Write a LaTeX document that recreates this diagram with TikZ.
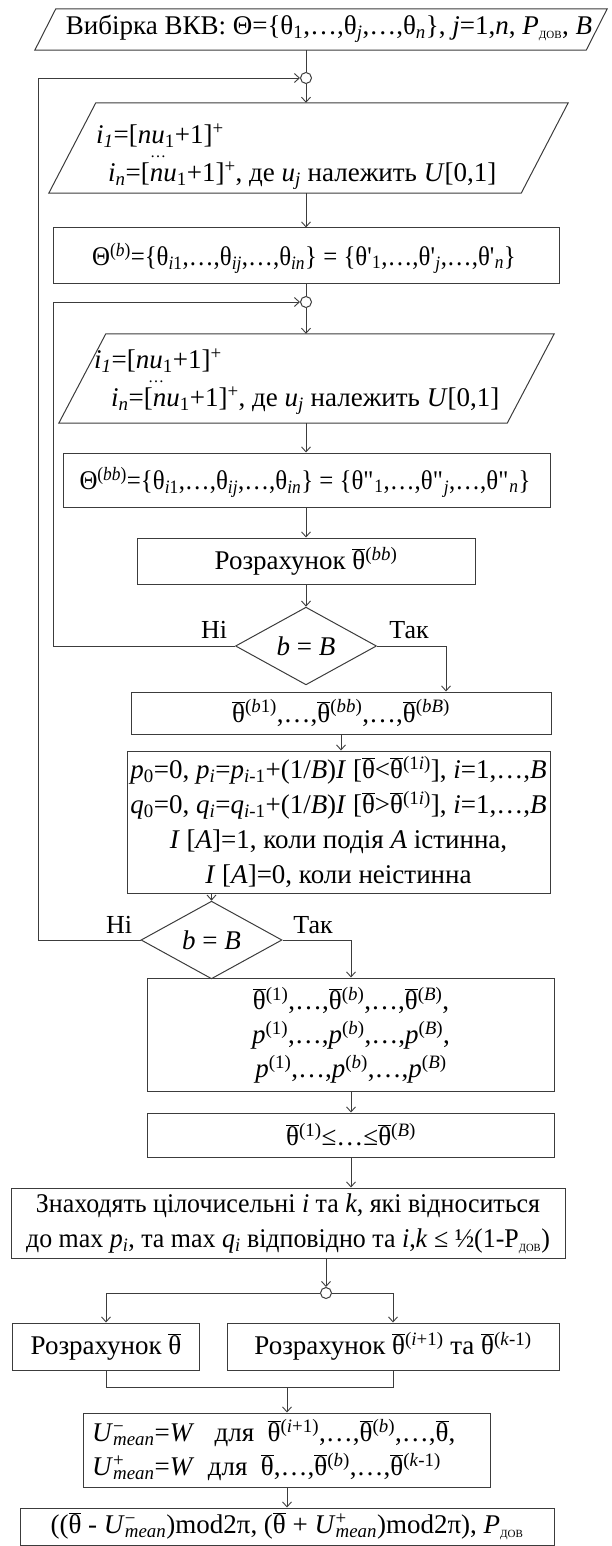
\documentclass[tikz,border=0pt]{standalone}
\usepackage{fontspec}
\setmainfont{Liberation Serif}
\usetikzlibrary{arrows.meta,shapes.geometric,calc}
\newcommand{\ssup}[1]{\textsuperscript{#1}}
\newcommand{\ssub}[1]{\textsubscript{#1}}
\newcommand{\tb}{\ensuremath{\overline{\mbox{θ}}}}
\newcommand{\supsub}[2]{\makebox[0pt][l]{\textsuperscript{#1}}\textsubscript{#2}}
\newcommand{\dov}{\textsubscript{\fontsize{11}{11}\selectfont ДОВ}}
\newcommand{\pr}{\textquotesingle}
\newcommand{\ppr}{\textquotedbl}
\definecolor{lc}{HTML}{3C3C3C}
\tikzset{
  every node/.style={font=\fontsize{27}{35}\selectfont, text=black},
  narrow/.style={font=\fontsize{27}{35}\selectfont\addfontfeature{FakeStretch=0.92}},
  slim/.style={font=\fontsize{27}{35}\selectfont\addfontfeature{FakeStretch=0.96}},
  box/.style={draw=lc, line width=1pt, inner sep=0pt},
  shp/.style={draw=none, inner sep=0pt},
  outline/.style={draw=lc, line width=1pt},
  txt/.style={inner sep=0pt, align=center},
  dec/.style={diamond, draw=lc, line width=1pt, inner sep=0pt, minimum width=141pt, minimum height=59pt},
  junc/.style={circle, draw=lc, line width=1pt, inner sep=0pt, minimum size=11pt},
  conn/.style={draw=lc, line width=0.9pt},
  arr/.style={conn, -{Straight Barb[length=5pt,width=9pt]}},
  lbl/.style={inner sep=0pt, font=\fontsize{26}{30}\selectfont},
}
\begin{document}
\begin{tikzpicture}[x=1pt,y=-1pt]
\useasboundingbox (0,0) rectangle (612,1546);
% top parallelogram
\node[shp, minimum width=572pt, minimum height=41pt] (pz0) at (321,29.5) {};
\draw[outline] (pz0.south west) -- ([xshift=21pt]pz0.north west) -- (pz0.north east) -- ([xshift=-21pt]pz0.south east) -- cycle;
\node[txt] (t0) at (329,29) {Вибірка ВКВ: Θ=\{θ\ssub{1},…,θ\ssub{\textit{j}},…,θ\ssub{\textit{n}}\}, \textit{j}=1,\textit{n}, \textit{P}\dov, \textit{B}};
\node[junc] (c1) at (306,78) {};
% parallelogram 1
\node[shp, minimum width=519pt, minimum height=90pt] (pz1) at (308.5,148) {};
\draw[outline] (pz1.south west) -- ([xshift=47pt]pz1.north west) -- (pz1.north east) -- ([xshift=-47pt]pz1.south east) -- cycle;
\node[txt, anchor=west] (t1a) at (96,136) {\textit{i}\ssub{\textit{1}}=[\textit{nu}\ssub{1}+1]\ssup{+}};
\node[txt, font=\fontsize{16}{16}\selectfont] (t1b) at (158,157) {…};
\node[txt, anchor=west] (t1c) at (108,176) {\textit{i\ssub{n}}=[\textit{nu}\ssub{1}+1]\ssup{+}, де \textit{u\ssub{j}} належить \textit{U}[0,1]};
% rect 1
\node[box, minimum width=506pt, minimum height=55pt] (r1) at (306,255.5) {};
\node[txt, narrow] (t2) at (304,258) {Θ\ssup{(\textit{b})}=\{θ\ssub{\textit{i}1},…,θ\ssub{\textit{ij}},…,θ\ssub{\textit{in}}\} = \{θ\pr\ssub{1},…,θ\pr\ssub{\textit{j}},…,θ\pr\ssub{\textit{n}}\}};
\node[junc] (c2) at (306,302) {};
% parallelogram 2
\node[shp, minimum width=495pt, minimum height=89pt] (pz2) at (306.5,378.5) {};
\draw[outline] (pz2.south west) -- ([xshift=47pt]pz2.north west) -- (pz2.north east) -- ([xshift=-47pt]pz2.south east) -- cycle;
\node[txt, anchor=west] (t3a) at (94,361) {\textit{i}\ssub{\textit{1}}=[\textit{nu}\ssub{1}+1]\ssup{+}};
\node[txt, font=\fontsize{16}{16}\selectfont] (t3b) at (156,382) {…};
\node[txt, anchor=west] (t3c) at (111,401) {\textit{i\ssub{n}}=[\textit{nu}\ssub{1}+1]\ssup{+}, де \textit{u\ssub{j}} належить \textit{U}[0,1]};
% rect 2
\node[box, minimum width=487pt, minimum height=54pt] (r2) at (306.5,480) {};
\node[txt, narrow] (t4) at (305,482) {Θ\ssup{(\textit{bb})}=\{θ\ssub{\textit{i}1},…,θ\ssub{\textit{ij}},…,θ\ssub{\textit{in}}\} = \{θ\ppr\ssub{1},…,θ\ppr\ssub{\textit{j}},…,θ\ppr\ssub{\textit{n}}\}};
% rect 3
\node[box, minimum width=338pt, minimum height=46pt] (r3) at (306,561) {Розрахунок \tb\ssup{(\textit{bb})}};
% decision 1
\node[dec] (d1) at (306,646) {\textit{b} = \textit{B}};
\node[lbl] (n1) at (214,630) {Ні};
\node[lbl] (y1) at (409,630) {Так};
% rect 4
\node[box, minimum width=420pt, minimum height=42pt] (r4) at (341,713) {\tb\ssup{(\textit{b}1)},…,\tb\ssup{(\textit{bb})},…,\tb\ssup{(\textit{bB})}};
% rect 5
\node[box, minimum width=423pt, minimum height=142pt] (r5) at (338.5,822) {};
\node[txt] (t5) at (338.5,822) {\textit{p}\ssub{0}=0, \textit{p\ssub{i}}=\textit{p}\ssub{\textit{i}-1}+(1/\textit{B})\textit{I} [\tb<\tb\ssup{(1\textit{i})}], \textit{i}=1,…,\textit{B}\\
\textit{q}\ssub{0}=0, \textit{q\ssub{i}}=\textit{q}\ssub{\textit{i}-1}+(1/\textit{B})\textit{I} [\tb>\tb\ssup{(1\textit{i})}], \textit{i}=1,…,\textit{B}\\
\textit{I} [\textit{A}]=1, коли подія \textit{A} істинна,\\
\textit{I} [\textit{A}]=0, коли неістинна};
% decision 2
\node[dec] (d2) at (211.5,940) {\textit{b} = \textit{B}};
\node[lbl] (n2) at (119,925) {Ні};
\node[lbl] (y2) at (313,925) {Так};
% rect 6
\node[box, minimum width=407pt, minimum height=113pt] (r6) at (351,1034.5) {};
\node[txt, font=\fontsize{27}{34}\selectfont] (t6) at (351,1035) {\tb\ssup{(1)},…,\tb\ssup{(\textit{b})},…,\tb\ssup{(\textit{B})},\\
\textit{p}\ssup{(1)},…,\textit{p}\ssup{(\textit{b})},…,\textit{p}\ssup{(\textit{B})},\\
\textit{p}\ssup{(1)},…,\textit{p}\ssup{(\textit{b})},…,\textit{p}\ssup{(\textit{B})}};
% rect 7
\node[box, minimum width=407pt, minimum height=44pt] (r7) at (351,1135) {\tb\ssup{(1)}≤…≤\tb\ssup{(\textit{B})}};
% rect 8
\node[box, minimum width=554pt, minimum height=70pt] (r8) at (288,1223) {};
\node[txt, slim] (t8) at (288,1224) {Знаходять цілочисельні \textit{i} та \textit{k}, які відноситься\\
до max \textit{p\ssub{i}}, та max \textit{q\ssub{i}} відповідно та \textit{i},\textit{k} ≤ ½(1-Р\dov)};
\node[junc] (c3) at (326,1293) {};
\coordinate (b1) at (106,1293);
\coordinate (b2) at (393,1293);
% rect 9, 10
\node[box, minimum width=187pt, minimum height=47pt] (r9) at (106,1346.5) {Розрахунок \tb};
\node[box, minimum width=332pt, minimum height=47pt] (r10) at (393,1346.5) {Розрахунок \tb\ssup{(\textit{i}+1)} та \tb\ssup{(\textit{k}-1)}};
\coordinate (m1) at (287,1387);
% rect 11
\node[box, minimum width=407pt, minimum height=74pt] (r11) at (286.5,1450) {};
\node[txt, align=left, anchor=west, font=\fontsize{27}{34}\selectfont] (t11) at (92,1450) {\textit{U}\supsub{−}{\textit{mean}}=\textit{W}\ \ \ для \ \tb\ssup{(\textit{i}+1)},…,\tb\ssup{(\textit{b})},…,\tb,\\
\textit{U}\supsub{+}{\textit{mean}}=\textit{W}\ \ для \ \tb,…,\tb\ssup{(\textit{b})},…,\tb\ssup{(\textit{k}-1)}};
% rect 12
\node[box, minimum width=534pt, minimum height=37pt] (r12) at (287,1526.5) {((\tb{} - \textit{U}\supsub{−}{\textit{mean}})mod2π, (\tb{} + \textit{U}\supsub{+}{\textit{mean}})mod2π), \textit{P}\dov};
% connectors
\coordinate (l1) at (38,0);
\coordinate (l2) at (53,0);
\coordinate (k1) at (446,646);
\coordinate (k2) at (351,940);
\draw[conn] (c1 |- pz0.south) -- (c1.north);
\draw[arr] (c1.south) -- (c1 |- pz1.north);
\draw[arr] (c1 |- pz1.south) -- (c1 |- r1.north);
\draw[conn] (c2 |- r1.south) -- (c2.north);
\draw[arr] (c2.south) -- (c2 |- pz2.north);
\draw[arr] (c2 |- pz2.south) -- (c2 |- r2.north);
\draw[arr] (c2 |- r2.south) -- (r3.north);
\draw[arr] (r3.south) -- (d1.north);
\draw[arr] (d1.west) -- (d1.west -| l2) |- (c2.west);
\draw[arr] (d1.east) -- (k1) -- (k1 |- r4.north);
\draw[arr] (r4.south) -- (r4.south |- r5.north);
\draw[arr] (d2 |- r5.south) -- (d2.north);
\draw[arr] (d2.west) -- (d2.west -| l1) |- (c1.west);
\draw[arr] (d2.east) -- (k2) -- (r6.north);
\draw[arr] (r6.south) -- (r7.north);
\draw[arr] (r7.south) -- (r7.south |- r8.north);
\draw[arr] (c3 |- r8.south) -- (c3.north);
\draw[arr] (c3.west) -- (b1) -- (b1 |- r9.north);
\draw[arr] (c3.east) -- (b2) -- (b2 |- r10.north);
\draw[conn] (r9.south) |- (m1);
\draw[conn] (r10.south) |- (m1);
\draw[arr] (m1) -- (m1 |- r11.north);
\draw[arr] (m1 |- r11.south) -- (m1 |- r12.north);
\end{tikzpicture}
\end{document}
